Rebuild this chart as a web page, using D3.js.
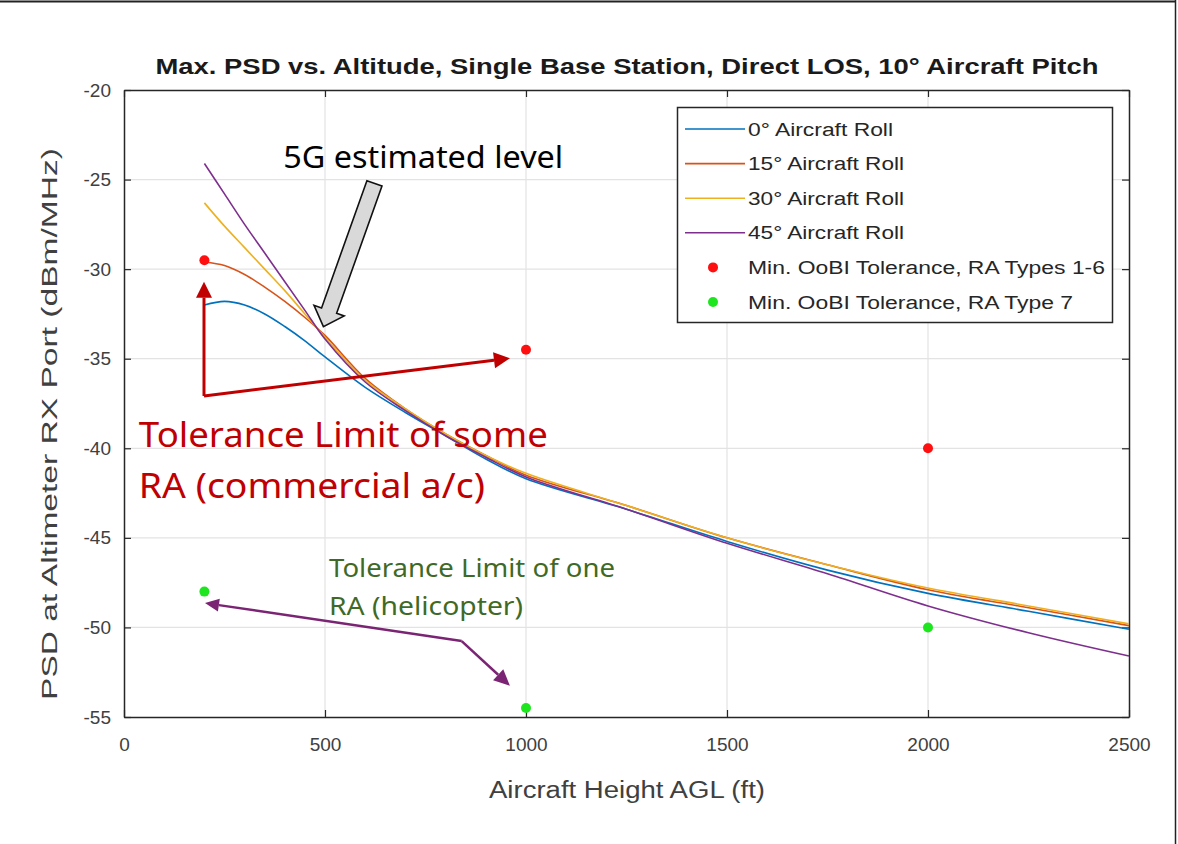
<!DOCTYPE html>
<html>
<head>
<meta charset="utf-8">
<script src="https://cdn.jsdelivr.net/npm/d3@7"></script>
<style>
  body { margin: 0; background: #fff; }
  svg { display: block; font-family: 'Liberation Sans', Arial, sans-serif; }
  .note { font-family: 'Noto Sans', 'Open Sans', sans-serif; }
</style>
</head>
<body>
<div class="svg-container"></div>
<script>
// altitude samples (ft)
const heights = [200, 250, 300, 350, 400, 450, 500, 600, 700, 800, 900, 1000, 1250, 1500, 1750, 2000, 2250, 2500]

// max PSD per roll angle (dBm/MHz)
const roll0  = [-32.0, -31.8, -32.0, -32.5, -33.2, -34.0, -34.9, -36.6, -38.0, -39.3, -40.6, -41.7, -43.4, -45.2, -46.8, -48.1, -49.1, -50.1]
const roll15 = [-29.6, -29.8, -30.3, -31.0, -31.8, -32.7, -33.7, -36.1, -37.8, -39.2, -40.4, -41.5, -43.2, -45.0, -46.5, -47.9, -48.9, -49.9]
const roll30 = [-26.3, -27.6, -28.8, -30.0, -31.2, -32.5, -33.8, -36.2, -37.8, -39.2, -40.4, -41.4, -43.2, -45.0, -46.5, -47.8, -48.8, -49.8]
const roll45 = [-24.1, -25.8, -27.5, -29.1, -30.7, -32.3, -33.9, -36.3, -37.9, -39.3, -40.5, -41.6, -43.4, -45.3, -47.0, -48.8, -50.3, -51.6]

const seriesNames = ['0° Aircraft Roll', '15° Aircraft Roll', '30° Aircraft Roll', '45° Aircraft Roll']
const seriesColors = ['#0072BD', '#D95319', '#EDB120', '#7E2F8E']

// tolerance points
const tolHeights = [200, 1000, 2000]
const tolType16 = [-29.5, -34.5, -40]
const tolType7 = [-48, -54.5, -50]

const xTicks = [0, 500, 1000, 1500, 2000, 2500]
const yTicks = [-20, -25, -30, -35, -40, -45, -50, -55]

const W = 1178, H = 844

const svg = d3.select('.svg-container').append('svg')
  .attr('width', W)
  .attr('height', H)

const x = d3.scaleLinear().domain([0, 2500]).range([124, 1129])
const y = d3.scaleLinear().domain([-55, -20]).range([717, 90])

// outer frame of the slide crop
svg.append('line').attr('x1', 0).attr('x2', 1176).attr('y1', 1.5).attr('y2', 1.5)
  .attr('stroke', '#222').attr('stroke-width', 2)
svg.append('line').attr('x1', 1175.5).attr('x2', 1175.5).attr('y1', 0).attr('y2', H)
  .attr('stroke', '#222').attr('stroke-width', 1.5)

// grid
svg.append('g').selectAll('line.gx')
  .data(xTicks.slice(1, -1))
  .enter().append('line')
  .attr('x1', d => x(d)).attr('x2', d => x(d))
  .attr('y1', y(-20)).attr('y2', y(-55))
  .attr('stroke', '#e3e3e3').attr('stroke-width', 1.2)
svg.append('g').selectAll('line.gy')
  .data(yTicks.slice(1, -1))
  .enter().append('line')
  .attr('x1', x(0)).attr('x2', x(2500))
  .attr('y1', d => y(d)).attr('y2', d => y(d))
  .attr('stroke', '#e3e3e3').attr('stroke-width', 1.2)

// axes
const tickLen = 7
const plain = d => String(d).replace('\u2212', '-')
svg.append('g')
  .attr('transform', `translate(0,${y(-55)})`)
  .call(d3.axisBottom(x).tickValues(xTicks).tickFormat(plain).tickSizeInner(-tickLen).tickSizeOuter(0).tickPadding(21))
svg.append('g')
  .attr('transform', `translate(0,${y(-20)})`)
  .call(d3.axisTop(x).tickValues(xTicks).tickSizeInner(-tickLen).tickSizeOuter(0).tickFormat(''))
svg.append('g')
  .attr('transform', `translate(${x(0)},0)`)
  .call(d3.axisLeft(y).tickValues(yTicks).tickFormat(plain).tickSizeInner(-tickLen).tickSizeOuter(0).tickPadding(13))
svg.append('g')
  .attr('transform', `translate(${x(2500)},0)`)
  .call(d3.axisRight(y).tickValues(yTicks).tickSizeInner(-tickLen).tickSizeOuter(0).tickFormat(''))

svg.selectAll('.domain').attr('stroke', '#262626').attr('stroke-width', 1.5)
svg.selectAll('.tick line').attr('stroke', '#262626').attr('stroke-width', 1.2)
svg.selectAll('.tick text')
  .attr('font-family', "'Liberation Sans', Arial, sans-serif")
  .attr('font-size', 19)
  .attr('fill', '#404040')

// title and axis labels
svg.append('text')
  .attr('x', 627).attr('y', 74)
  .attr('text-anchor', 'middle')
  .attr('font-size', 22).attr('font-weight', 'bold').attr('fill', '#1a1a1a')
  .attr('textLength', 943).attr('lengthAdjust', 'spacingAndGlyphs')
  .text('Max. PSD vs. Altitude, Single Base Station, Direct LOS, 10° Aircraft Pitch')

svg.append('text')
  .attr('x', 627).attr('y', 798)
  .attr('text-anchor', 'middle')
  .attr('font-size', 23).attr('fill', '#404040')
  .attr('textLength', 276).attr('lengthAdjust', 'spacingAndGlyphs')
  .text('Aircraft Height AGL (ft)')

svg.append('text')
  .attr('transform', 'translate(57,424) rotate(-90)')
  .attr('text-anchor', 'middle')
  .attr('font-size', 22).attr('fill', '#404040')
  .attr('textLength', 552).attr('lengthAdjust', 'spacingAndGlyphs')
  .text('PSD at Altimeter RX Port (dBm/MHz)')

// curves
const series = [roll0, roll15, roll30, roll45]
const line = d3.line()
  .x((d, i) => x(heights[i]))
  .y(d => y(d))
  .curve(d3.curveCatmullRom.alpha(0.5))

svg.append('g').selectAll('path.curve')
  .data(series)
  .enter().append('path')
  .attr('class', 'curve')
  .attr('d', line)
  .attr('fill', 'none')
  .attr('stroke', (d, i) => seriesColors[i])
  .attr('stroke-width', 1.6)

// tolerance dots
svg.append('g').selectAll('circle.red')
  .data(tolType16)
  .enter().append('circle')
  .attr('cx', (d, i) => x(tolHeights[i]))
  .attr('cy', d => y(d))
  .attr('r', 5)
  .attr('fill', '#ff1010')
svg.append('g').selectAll('circle.green')
  .data(tolType7)
  .enter().append('circle')
  .attr('cx', (d, i) => x(tolHeights[i]))
  .attr('cy', d => y(d))
  .attr('r', 5)
  .attr('fill', '#1ee61e')

// legend
const legend = svg.append('g')
legend.append('rect')
  .attr('x', 677.5).attr('y', 107.5).attr('width', 435).attr('height', 215)
  .attr('fill', '#fff').attr('stroke', '#262626').attr('stroke-width', 1.5)

const legendItems = seriesNames.map((n, i) => ({ name: n, color: seriesColors[i], kind: 'line' }))
  .concat([
    { name: 'Min. OoBI Tolerance, RA Types 1-6', color: '#ff1010', kind: 'dot' },
    { name: 'Min. OoBI Tolerance, RA Type 7', color: '#1ee61e', kind: 'dot' }
  ])
const legendWidths = [145, 156, 156, 156, 357, 325]

legendItems.forEach((item, i) => {
  const cy = 129 + i * 34.6
  if (item.kind === 'line') {
    legend.append('line')
      .attr('x1', 685).attr('x2', 745).attr('y1', cy).attr('y2', cy)
      .attr('stroke', item.color).attr('stroke-width', 1.6)
  } else {
    legend.append('circle')
      .attr('cx', 713).attr('cy', cy).attr('r', 5).attr('fill', item.color)
  }
  legend.append('text')
    .attr('x', 748).attr('y', cy + 6.5)
    .attr('font-size', 18).attr('fill', '#262626')
    .attr('textLength', legendWidths[i]).attr('lengthAdjust', 'spacingAndGlyphs')
    .text(item.name)
})

// ---- annotations (placed in data units) ----
function arrowHead(g, from, to, color, len, half) {
  const x0 = x(from[0]), y0 = y(from[1]), x1 = x(to[0]), y1 = y(to[1])
  const a = Math.atan2(y1 - y0, x1 - x0)
  const bx = x1 - len * Math.cos(a), by = y1 - len * Math.sin(a)
  const px = -Math.sin(a) * half, py = Math.cos(a) * half
  g.append('path')
    .attr('d', `M${x1},${y1}L${bx + px},${by + py}L${bx - px},${by - py}Z`)
    .attr('fill', color)
  return [bx, by]
}

function lineArrow(corner, tip, color, width, len, half) {
  const g = svg.append('g')
  const base = arrowHead(g, corner, tip, color, len, half)
  g.append('line')
    .attr('x1', x(corner[0])).attr('y1', y(corner[1]))
    .attr('x2', base[0]).attr('y2', base[1])
    .attr('stroke', color).attr('stroke-width', width)
}

// 5G text and block arrow
svg.append('text').attr('class', 'note')
  .attr('x', x(396)).attr('y', y(-24.35))
  .attr('font-size', 30).attr('fill', '#000')
  .attr('textLength', 280).attr('lengthAdjust', 'spacingAndGlyphs')
  .text('5G estimated level')

const blockTail = [623, -25.21], blockTip = [496, -33.21]
{
  const x0 = x(blockTail[0]), y0 = y(blockTail[1]), x1 = x(blockTip[0]), y1 = y(blockTip[1])
  const a = Math.atan2(y1 - y0, x1 - x0)
  const L = Math.hypot(x1 - x0, y1 - y0)
  const sw = 8, hw = 16, hl = 17
  const pts = [[0, -sw], [L - hl, -sw], [L - hl, -hw], [L, 0], [L - hl, hw], [L - hl, sw], [0, sw]]
    .map(p => [x0 + p[0] * Math.cos(a) - p[1] * Math.sin(a), y0 + p[0] * Math.sin(a) + p[1] * Math.cos(a)])
  svg.append('path')
    .attr('d', 'M' + pts.map(p => p.join(',')).join('L') + 'Z')
    .attr('fill', '#d9d9d9').attr('stroke', '#111').attr('stroke-width', 1.6)
}

// red arrows
const redCorner = [199, -37.08]
lineArrow(redCorner, [199, -30.7], '#c00000', 3, 16, 8)
lineArrow(redCorner, [960, -34.98], '#c00000', 3, 16, 8)

svg.append('text').attr('class', 'note')
  .attr('x', x(37)).attr('y', y(-39.91))
  .attr('font-size', 34).attr('fill', '#c00000')
  .attr('textLength', 409).attr('lengthAdjust', 'spacingAndGlyphs')
  .text('Tolerance Limit of some')
svg.append('text').attr('class', 'note')
  .attr('x', x(37)).attr('y', y(-42.78))
  .attr('font-size', 34).attr('fill', '#c00000')
  .attr('textLength', 346).attr('lengthAdjust', 'spacingAndGlyphs')
  .text('RA (commercial a/c)')

// purple arrows
const purpleCorner = [840, -50.76]
lineArrow(purpleCorner, [201.5, -48.64], '#7a2473', 2.5, 14, 6.5)
lineArrow(purpleCorner, [960, -53.25], '#7a2473', 2.5, 16, 7.5)

svg.append('text').attr('class', 'note')
  .attr('x', x(510)).attr('y', y(-47.19))
  .attr('font-size', 25).attr('fill', '#3f6a26')
  .attr('textLength', 286).attr('lengthAdjust', 'spacingAndGlyphs')
  .text('Tolerance Limit of one')
svg.append('text').attr('class', 'note')
  .attr('x', x(510)).attr('y', y(-49.31))
  .attr('font-size', 25).attr('fill', '#3f6a26')
  .attr('textLength', 194).attr('lengthAdjust', 'spacingAndGlyphs')
  .text('RA (helicopter)')
</script>
</body>
</html>
